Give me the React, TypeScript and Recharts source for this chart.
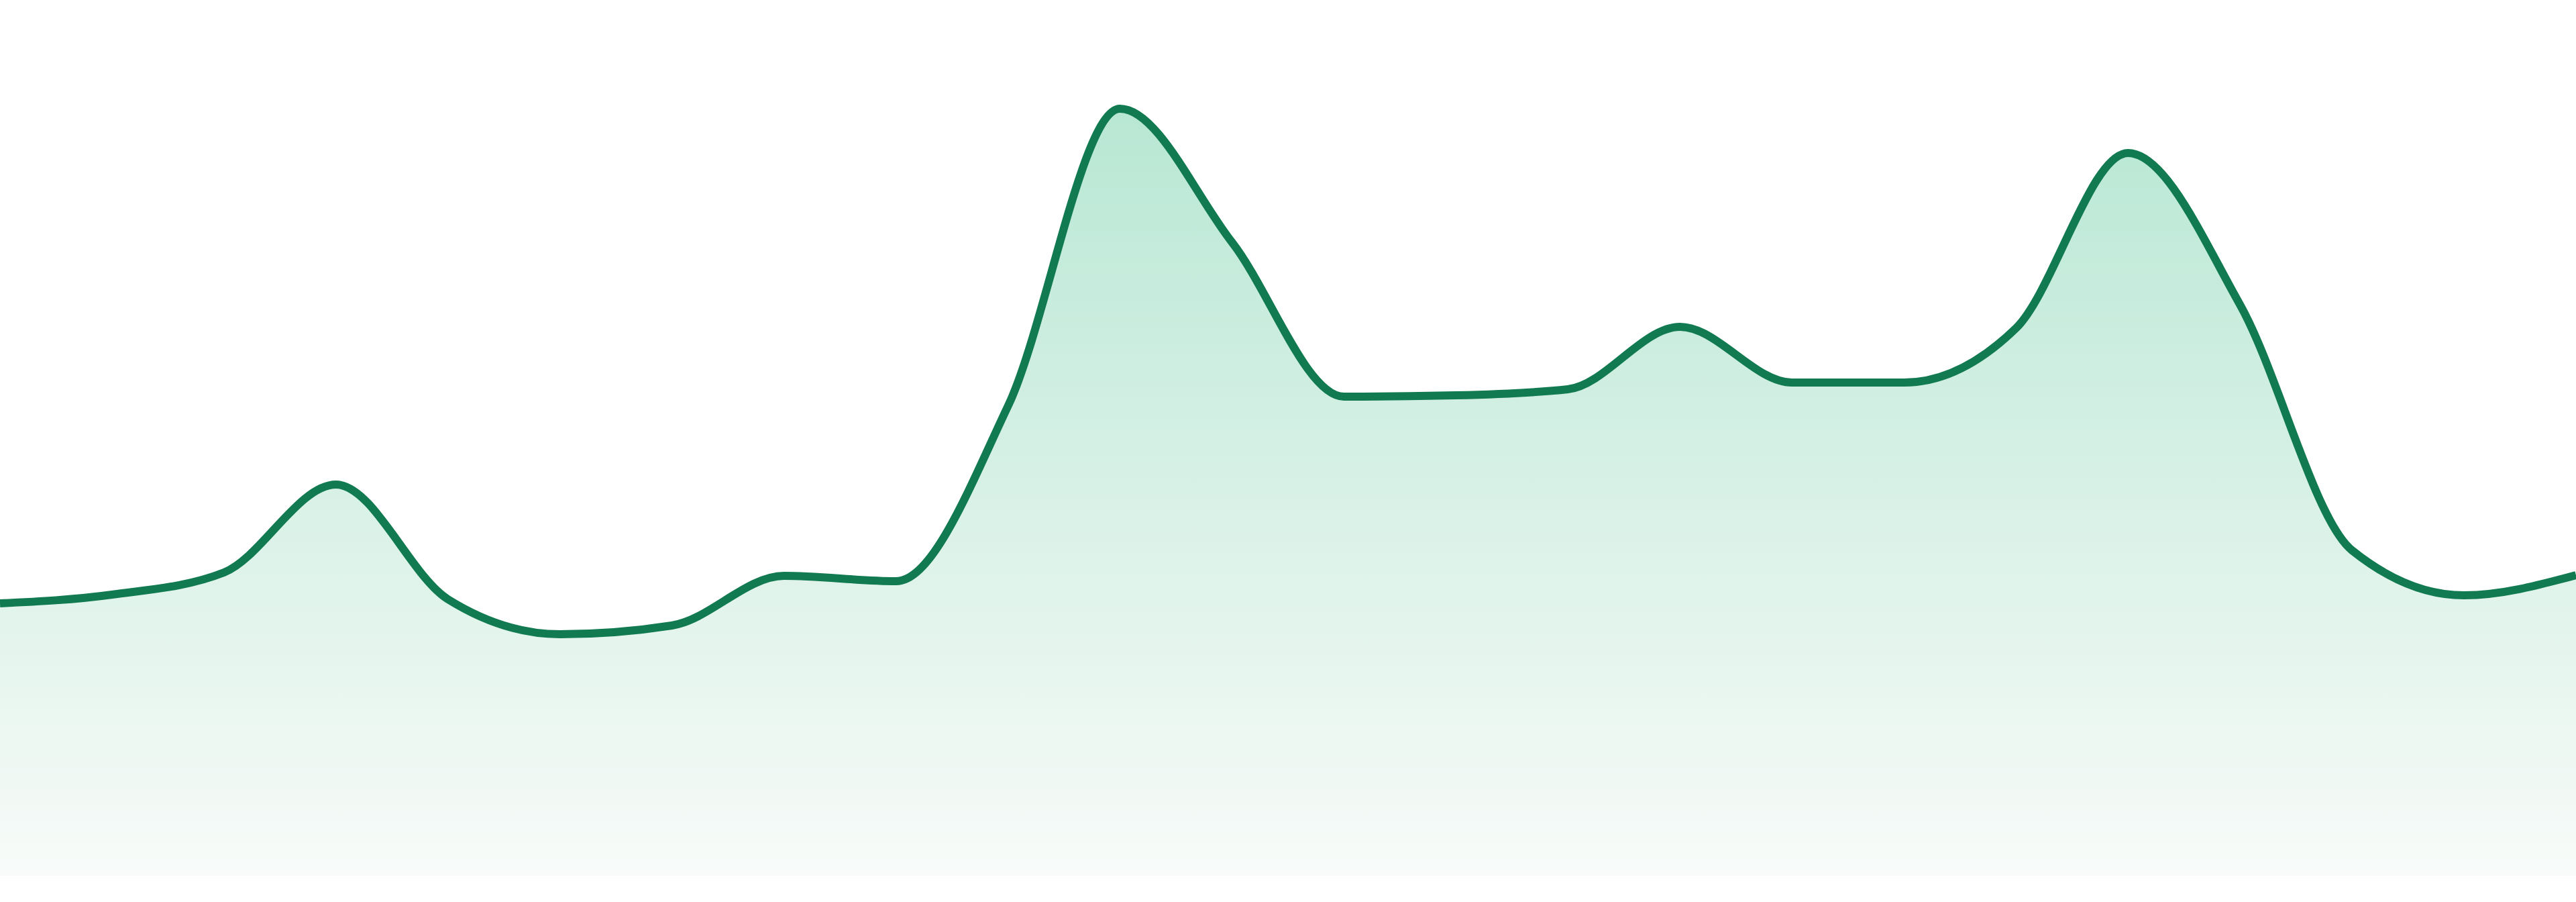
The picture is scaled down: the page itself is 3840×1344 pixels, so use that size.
import React from "react";
import { AreaChart, Area, XAxis, YAxis } from "recharts";

const categories: string[] = [
  "1", "2", "3", "4", "5", "6", "7", "8", "9", "10", "11", "12",
  "13", "14", "15", "16", "17", "18", "19", "20", "21", "22", "23", "24",
];

const values: number[] = [
  40.6, 41.9, 45.2, 58.3, 41.2, 36.0, 37.3, 44.7, 43.9, 70.0, 114.3, 94.4,
  71.4, 71.6, 72.5, 81.8, 73.5, 73.5, 81.6, 107.7, 85.1, 48.5, 41.8, 44.8,
];

const data = categories.map((name, i) => ({ name, value: values[i] }));

export default function App() {
  return (
    <div style={{ position: "absolute", left: 0, top: 0, width: 3840, height: 1344, background: "#ffffff" }}>
      <AreaChart
        width={3840}
        height={1344}
        data={data}
        margin={{ top: 105, right: 0, bottom: 39, left: 0 }}
      >
        <defs>
          <linearGradient id="areaFill" x1="0" y1="0" x2="0" y2="1">
            <stop offset="0%" stopColor="#b8e7d4" stopOpacity={1} />
            <stop offset="100%" stopColor="#f8fbf9" stopOpacity={1} />
          </linearGradient>
        </defs>
        <XAxis dataKey="name" hide padding={{ left: 0, right: 0 }} />
        <YAxis hide domain={[0, 120]} />
        <Area
          type="monotone"
          dataKey="value"
          stroke="#117a50"
          strokeWidth={12}
          fill="url(#areaFill)"
          fillOpacity={1}
          dot={false}
          activeDot={false}
          isAnimationActive={false}
        />
      </AreaChart>
    </div>
  );
}
